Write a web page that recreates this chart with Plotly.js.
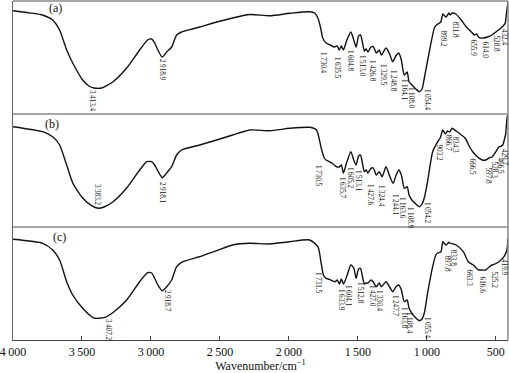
<!DOCTYPE html>
<html>
<head>
<meta charset="utf-8">
<script src="https://cdn.plot.ly/plotly-3.0.1.min.js"></script>
<style>html,body{margin:0;padding:0;background:#fff;}#chart{width:509px;height:373px;}</style>
</head>
<body>
<div id="chart"></div>
<script>
// ---- Data (wavenumber in cm^-1, relative transmittance) ----
const wnA = [4000,3900,3800,3750,3712,3662,3611,3567,3495,3450,3413,3357,3277,3176,3082,3024,2995,2973,2950,2919,2886,2850,2814,2778,2700,2647,2524,2408,2284,2139,1994,1849,1813,1790,1770,1755,1730.4,1700,1670,1650,1635.5,1620,1604.8,1580,1551,1530,1513,1495,1481,1465,1453,1440,1426.8,1405,1388,1367,1346,1329.5,1296,1270,1248.8,1225,1204,1185,1164.1,1143,1129,1108,1080,1054.4,1035,1017,980,943,921,899.2,884,862,840,831.8,815,790,751,714,677,655.9,640,626,614,590,560,528.8,500,463,441,432.4,422,412];
const tA  = [103.3,101.5,99.5,97,94,84,64,51,34,28,26,26,32,46,64,74,75,71,64,57,62,67,79,82,85,87,92,96,99.5,98.3,100.7,102.3,101,96,86,76,71,69,67,68,64,68,64,74,82,74,67,78,79,70,63,65,62,67,67.3,61,64,59,66,60,52.3,58,61,54,39,42,32,29,25,22.3,25,37,64,87,90,92,100,97,101,99,101,100,94,87,82,79,80,77,76,76,77,79,82,86,89,91,102,112];

const wnB = [4000,3785,3712,3662,3611,3567,3495,3430,3383.2,3340,3277,3176,3082,3030,2995,2973,2950,2918.1,2886,2850,2814,2778,2647,2524,2408,2284,2139,1994,1849,1800,1766,1744,1730.5,1708,1680,1657,1635.7,1620,1605.2,1580,1551,1530,1513.1,1495,1481,1465,1453,1440,1427.6,1405,1388,1367,1346,1324.4,1296,1270,1244.1,1225,1204,1185,1163.6,1143,1129,1108.9,1080,1054.2,1035,1017,995,958,921,903.2,885,866.7,850,834.3,818,788,722,690,666.5,640,620,597.8,574,550,528.3,500,478,466.5,450,434,429.7,419,412];
const tB  = [100.3,95.3,90.3,82,62,44,29,21.3,18.7,20,25,39,57,65.3,65.3,62,56,49.3,54,60.3,72,77,82,87,92,97,96.3,98.7,99.7,97,79,69,67,65.3,63,60.3,60,62,54,65,75.3,67,62,71,72,62,55.3,57,54,58.7,59,52,55.3,50.3,60.3,51,43.7,51,57,52,38.7,40.3,32,27,23,20.3,23,30,45.3,75.3,85.3,89,97,93,96,95,98.7,96,88.7,80,75,71,68.7,67,67,69,70,75.3,80,80.5,82,90,92,109,113];

const wnC = [4000,3785,3712,3662,3611,3567,3495,3430,3407.2,3340,3277,3176,3082,3024,2995,2973,2950,2918.7,2886,2850,2814,2778,2647,2524,2408,2284,2139,1994,1849,1790,1766,1750,1731.5,1708,1665,1650,1633.9,1620,1604.1,1580,1551,1530,1512.8,1495,1481,1465,1453,1440,1427.0,1405,1388,1367,1346,1330.4,1296,1270,1247.7,1225,1204,1185,1163.8,1143,1129,1108.4,1080,1055.4,1035,1017,995,958,935,921,897.8,884,862,840,833.8,788,736,700,663.3,626,616.6,574,530,525.2,478,441,419.9,412];
const tC  = [100.7,96.7,90,80,58.3,45,31.7,23.3,21.7,22.3,27.3,40,58.3,67.3,67,61.7,55,49.3,53.3,60,73.3,77.7,83.3,89.3,95,96.7,96,98.3,100,93.3,76.7,65,61.7,60.7,58.3,60,56,61,56,64,75,72,61.7,71,71.7,62,56,57,57,60,58,53.3,57,53.3,58.3,53,48.3,53,55,50,38.3,40,31.7,26.7,22,19.3,21,28,46.7,73.3,85,87,88.3,98.3,95,97.7,97,95,88.3,78.3,75,70,70,70,75,75,78.3,83.3,90,102];

// Labelled band positions (cm^-1)
const peaksA = [3413.4,2918.9,1730.4,1635.5,1604.8,1513.0,1426.8,1329.5,1248.8,1164.1,1108.0,1054.4,899.2,831.8,655.9,614.0,528.8,432.4];
const peaksB = [3383.2,2918.1,1730.5,1635.7,1605.2,1513.1,1427.6,1324.4,1244.1,1163.6,1108.9,1054.2,903.2,866.7,834.3,666.5,597.8,528.3,466.5,429.7];
const peaksC = [3407.2,2918.7,1731.5,1633.9,1604.1,1512.8,1427.0,1330.4,1247.7,1163.8,1108.4,1055.4,897.8,833.8,663.3,616.6,525.2,419.9];

const xTickVals = [4000,3500,3000,2500,2000,1500,1000,500];
const xTickText = ["4\u2009000","3\u2009500","3\u2009000","2\u2009500","2\u2009000","1\u2009500","1\u2009000","500"];
const panelNames = ["(a)","(b)","(c)"];

// ---- label placement (where each band label's top-centre sits, axis units) ----
const labelXA = [3427,2920,1753,1652,1557,1470,1398,1318,1246,1166,1115,999,883,789,659,572,499,436];
const labelYA = [26,57,64,59,66,61,56,52,46,37,29,27,86,94,76,74,81,87];
const labelXB = [3391,2920,1789,1615,1557,1499,1412,1333,1231,1181,1123,999,905,840,789,666,557,507,470,436];
const labelYB = [45,47,64,52,62,59,45,44,35,32,22,27,84,94,92,70,62,67,72,80];
const labelXC = [3311,2884,1789,1623,1572,1485,1398,1347,1231,1166,1130,999,854,804,688,594,507,437];
const labelYC = [23,52,70,53,57,60,57,52,47,35,30,25,87,92,72,65,70,83];

function fmt(v) {
  const s = v.toFixed(1);
  const parts = s.split('.');
  let ip = parts[0];
  if (ip.length === 4) ip = ip[0] + '\u2009' + ip.slice(1);
  return ip + '.' + parts[1];
}

const FONT = 'Liberation Serif, Times New Roman, serif';
const lineStyle = {color:'#111', width:1.4, shape:'spline', smoothing:0.6};

const traces = [
  {x: wnA, y: tA, type:'scatter', mode:'lines', line: lineStyle, xaxis:'x', yaxis:'y', hoverinfo:'skip'},
  {x: wnB, y: tB, type:'scatter', mode:'lines', line: lineStyle, xaxis:'x', yaxis:'y2', hoverinfo:'skip'},
  {x: wnC, y: tC, type:'scatter', mode:'lines', line: lineStyle, xaxis:'x', yaxis:'y3', hoverinfo:'skip'}
];

const annotations = [];
const sets = [[peaksA, labelXA, labelYA, 'y'], [peaksB, labelXB, labelYB, 'y2'], [peaksC, labelXC, labelYC, 'y3']];
sets.forEach(([pk, lx, ly, yref]) => {
  pk.forEach((p, i) => {
    annotations.push({
      x: lx[i], y: ly[i], xref:'x', yref: yref,
      text: fmt(p), textangle: 90, showarrow:false,
      xanchor:'center', yanchor:'top',
      font:{family: FONT, size: 7.2, color:'#111'}
    });
  });
});
const letterPos = [[0.085,0.979],[0.079,0.637],[0.093,0.304]];
panelNames.forEach((n, i) => {
  annotations.push({x: letterPos[i][0], y: letterPos[i][1], xref:'paper', yref:'paper', text:n,
    showarrow:false, xanchor:'center', yanchor:'middle', font:{family:FONT, size:12, color:'#111'}});
});

const yCommon = {range:[0,113], showticklabels:false, ticks:'', showgrid:false, zeroline:false,
                 showline:true, linecolor:'#666', linewidth:1.5, fixedrange:true};

const layout = {
  width:509, height:373,
  margin:{l:13, r:1, t:1, b:33},
  paper_bgcolor:'#fff', plot_bgcolor:'#fff',
  showlegend:false,
  font:{family:FONT, size:12, color:'#111'},
  xaxis:{range:[4000,412], anchor:'y3', tickvals:xTickVals, ticktext:xTickText,
         ticks:'inside', ticklen:4, tickcolor:'#444', tickwidth:1,
         ticklabeloverflow:'allow',
         showline:true, linecolor:'#444', linewidth:1.2, showgrid:false, zeroline:false,
         tickfont:{family:FONT, size:12, color:'#111'},
         title:{text:'Wavenumber/cm<sup>\u22121</sup>', font:{family:FONT, size:12, color:'#111'}, standoff:2}},
  yaxis: Object.assign({domain:[2/3,1]}, yCommon),
  yaxis2: Object.assign({domain:[1/3,2/3]}, yCommon),
  yaxis3: Object.assign({domain:[0,1/3]}, yCommon),
  shapes:[
    {type:'line', xref:'paper', yref:'paper', x0:0, x1:1, y0:1, y1:1, line:{color:'#888', width:1.5}},
    {type:'line', xref:'paper', yref:'paper', x0:0, x1:1, y0:2/3, y1:2/3, line:{color:'#888', width:1.5}},
    {type:'line', xref:'paper', yref:'paper', x0:0, x1:1, y0:1/3, y1:1/3, line:{color:'#888', width:1.5}},
    {type:'line', xref:'paper', yref:'paper', x0:1, x1:1, y0:0, y1:1, line:{color:'#888', width:1.5}}
  ],
  annotations: annotations
};

Plotly.newPlot('chart', traces, layout, {staticPlot:true, displayModeBar:false});
</script>
</body>
</html>
